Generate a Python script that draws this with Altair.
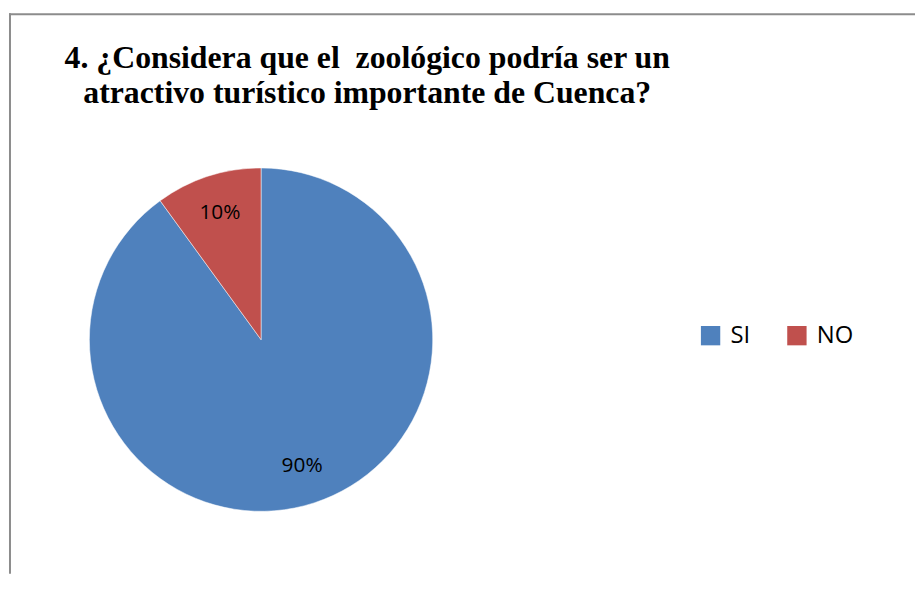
import altair as alt
import pandas as pd

categories = ["SI", "NO"]
values = [90, 10]
labels = ["90%", "10%"]
orden = [0, 1]
title_lines = ["4. ¿Considera que el\u00a0 zoológico podría ser un",
               "atractivo turístico importante de Cuenca?"]

W, H = 913, 565

df = pd.DataFrame({"cat": categories, "val": values, "lab": labels, "orden": orden})
tdf = pd.DataFrame({"t": ["\n".join(title_lines)]})
bdf = pd.DataFrame({"k": [0]})

base = alt.Chart(df)

pie = base.mark_arc(outerRadius=173, stroke="white", strokeWidth=0.5).encode(
    theta=alt.Theta("val:Q", stack=True),
    order=alt.Order("orden:Q"),
    color=alt.Color(
        "cat:N",
        scale=alt.Scale(domain=categories, range=["#4F81BD", "#C0504D"]),
        legend=alt.Legend(
            title=None, orient="none", legendX=695, legendY=313,
            direction="horizontal", symbolType="square", symbolSize=380,
            symbolStrokeWidth=0, labelFont="Open Sans", labelFontSize=24,
            labelColor="#000000", labelOffset=8, columnPadding=35, padding=0,
        ),
    ),
    x=alt.value(254),
    y=alt.value(329),
)

txt = base.mark_text(radius=134, font="Open Sans", fontSize=21, color="#000000",
                     baseline="middle", align="center").encode(
    theta=alt.Theta("val:Q", stack=True),
    order=alt.Order("orden:Q"),
    text="lab:N",
    x=alt.value(254),
    y=alt.value(329),
)

title = alt.Chart(tdf).mark_text(
    font="Liberation Serif", fontWeight="bold", fontSize=32, color="#000000",
    align="center", baseline="alphabetic", lineBreak="\n", lineHeight=36,
).encode(text="t:N", x=alt.value(361), y=alt.value(55))

left = alt.Chart(bdf).mark_rule(color="#8c8c8c", strokeWidth=2).encode(
    x=alt.value(1), y=alt.value(0), y2=alt.value(H))
top = alt.Chart(bdf).mark_rule(color="#8c8c8c", strokeWidth=2).encode(
    x=alt.value(0), x2=alt.value(W), y=alt.value(1))

chart = alt.layer(pie, txt, title, left, top).properties(
    width=W, height=H,
    autosize=alt.AutoSizeParams(type="none"),
    padding={"left": 1, "top": 3, "right": 0, "bottom": 0},
    background="white",
).configure_view(stroke=None)

chart.save("out.html", embed_options={"renderer": "svg", "actions": False})
